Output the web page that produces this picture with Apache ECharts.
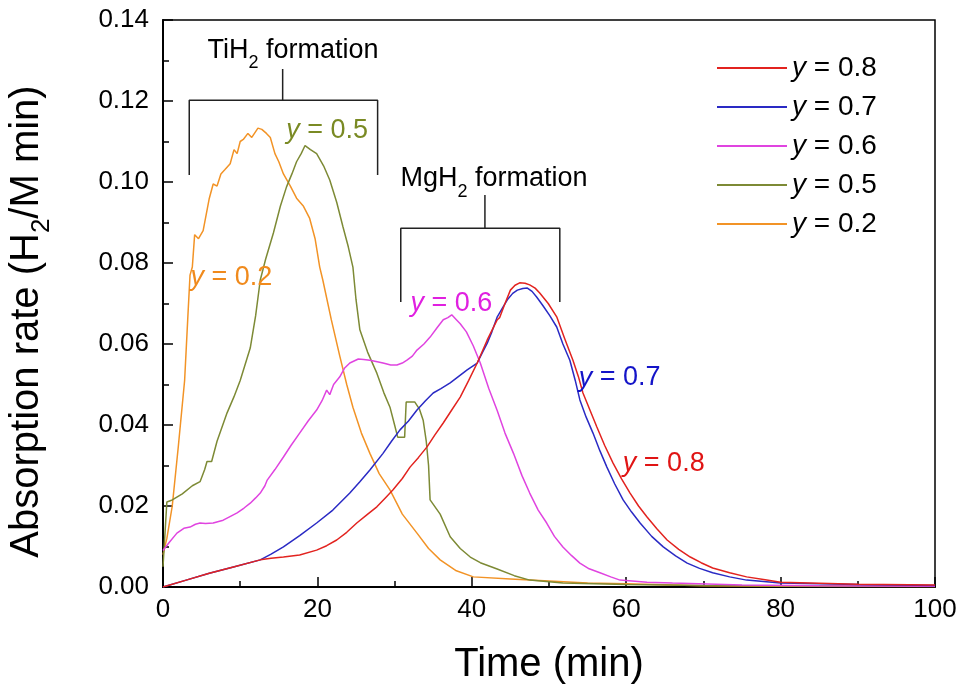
<!DOCTYPE html>
<html>
<head>
<meta charset="utf-8">
<script src="https://cdn.jsdelivr.net/npm/echarts@6/dist/echarts.min.js"></script>
<style>
html,body{margin:0;padding:0;background:#fff;}
#chart{width:960px;height:693px;}
</style>
</head>
<body>
<div id="chart"></div>
<script>
// ---- data (time in min, absorption rate in H2/M min) ----
const seriesNames = ['0.8', '0.7', '0.6', '0.5', '0.2'];

const y08 = [[0,0],[3,0.0017],[6,0.0034],[9,0.0049],[12.6,0.0067],[14,0.0071],[15.6,0.0074],[17.7,0.0079],[19.9,0.0091],[21.2,0.0102],[22.5,0.0116],[23.8,0.0135],[25.1,0.0158],[26.4,0.0178],[27.7,0.0198],[28.8,0.022],[29.8,0.024],[31,0.0268],[32,0.0296],[33.1,0.032],[34.2,0.0346],[35.2,0.0375],[36.3,0.0405],[37.4,0.0437],[38.5,0.0469],[39.6,0.051],[40.7,0.0553],[42,0.061],[43.3,0.066],[43.6,0.0665],[44.3,0.070],[45,0.0733],[45.6,0.0745],[46.2,0.0751],[46.9,0.075],[47.5,0.0746],[48.2,0.0738],[48.8,0.0726],[49.9,0.070],[51,0.0667],[52,0.0615],[53.1,0.056],[53.8,0.052],[54.4,0.0479],[55.3,0.0437],[56.2,0.0395],[57.2,0.035],[58.3,0.0306],[59.4,0.0267],[60.5,0.0232],[61.6,0.020],[62.7,0.0173],[64,0.0143],[65.3,0.0116],[66.8,0.0093],[68.3,0.0074],[69.7,0.006],[71.2,0.0047],[73.4,0.0035],[75.6,0.0025],[78,0.0018],[80,0.0012],[90,0.0007],[100,0.0005]];

const y07 = [[0,0],[3,0.0017],[6,0.0034],[9,0.0049],[12.6,0.0067],[14,0.0081],[15.6,0.0099],[17.7,0.0127],[19.9,0.0158],[22,0.019],[24.2,0.0232],[25.5,0.026],[26.8,0.0289],[28.5,0.033],[29.6,0.036],[30.7,0.0388],[31.8,0.041],[32.9,0.0437],[34,0.046],[35,0.0479],[36,0.049],[37.2,0.0504],[38.3,0.052],[39.4,0.0536],[40.7,0.0553],[41.4,0.058],[42,0.0602],[42.6,0.063],[43.3,0.0667],[44,0.069],[44.6,0.0709],[45.3,0.0725],[45.9,0.0733],[46.6,0.0737],[47.2,0.0738],[47.8,0.073],[48.4,0.0716],[49.2,0.0695],[50.1,0.067],[51,0.0642],[51.8,0.060],[52.7,0.056],[53.4,0.051],[54,0.0462],[54.8,0.042],[55.7,0.038],[56.6,0.0336],[57.5,0.0296],[58.5,0.0255],[59.6,0.0215],[60.7,0.0185],[61.8,0.0158],[63.3,0.0125],[64.8,0.0099],[66.4,0.0077],[67.9,0.0059],[69.5,0.0046],[71.2,0.0035],[73.4,0.0025],[75.6,0.0017],[80,0.001],[90,0.0006],[100,0.0004]];

const y06 = [[0,0.009],[0.8,0.011],[1.8,0.0133],[2.7,0.0145],[3.5,0.0148],[4.2,0.0155],[4.8,0.0158],[5.5,0.0157],[6.5,0.0158],[7.8,0.0165],[8.8,0.0175],[9.6,0.0183],[10.5,0.0195],[11.3,0.0207],[12,0.022],[12.6,0.0232],[13.2,0.025],[13.5,0.0264],[14.5,0.029],[15.6,0.0321],[16.6,0.035],[17.7,0.038],[18.8,0.041],[19.9,0.0437],[20.6,0.046],[21.2,0.0486],[21.6,0.0475],[22.1,0.050],[22.9,0.0519],[23.5,0.054],[24.2,0.0553],[25.3,0.0563],[26,0.0562],[26.8,0.056],[27.6,0.0557],[28.5,0.0553],[29.5,0.0548],[30.3,0.0548],[31,0.0553],[31.6,0.056],[32.3,0.057],[32.9,0.0585],[33.8,0.060],[34.6,0.0617],[35.5,0.064],[36.3,0.066],[36.9,0.0665],[37.4,0.0672],[38,0.066],[38.5,0.065],[39.3,0.063],[40.2,0.0595],[41.1,0.0553],[42.2,0.049],[43.3,0.0435],[44.3,0.038],[45.4,0.033],[46.5,0.0275],[47.5,0.0232],[48.6,0.019],[49.7,0.0158],[50.7,0.0125],[51.8,0.0099],[52.9,0.0078],[54,0.0059],[55.2,0.0045],[56.6,0.0035],[58,0.0025],[59.2,0.0017],[62.7,0.0012],[66,0.001],[75,0.0005],[85,0.0003],[100,0.0002]];

const y05 = [[0,0.005],[0.5,0.021],[1.2,0.0215],[2.5,0.023],[3.8,0.025],[4.8,0.026],[5.4,0.029],[5.7,0.031],[6.3,0.031],[7,0.036],[8.3,0.043],[9.2,0.047],[10,0.051],[11.3,0.059],[12,0.067],[12.6,0.0758],[13.3,0.081],[14.3,0.0874],[15.2,0.094],[16,0.0988],[16.7,0.102],[17.3,0.105],[17.9,0.107],[18.4,0.109],[19.1,0.108],[19.9,0.107],[20.8,0.104],[21.6,0.1005],[22.5,0.095],[23.3,0.089],[24,0.084],[24.6,0.079],[25,0.071],[25.5,0.0635],[26.5,0.058],[27.7,0.0528],[28.6,0.048],[29.4,0.0444],[30,0.040],[30.4,0.037],[31.3,0.037],[31.5,0.0457],[32.6,0.0457],[33.2,0.044],[33.7,0.0412],[34.1,0.036],[34.4,0.030],[34.6,0.0215],[35.9,0.018],[37.2,0.0124],[38.5,0.0095],[39.8,0.0074],[41.1,0.006],[43.2,0.0045],[45.5,0.0028],[47.5,0.0017],[51.8,0.001],[60,0.0006],[70,0.0004],[100,0.0002]];

const y02 = [[0,0.008],[0.5,0.012],[1.2,0.020],[2,0.035],[2.8,0.051],[3.2,0.066],[3.5,0.077],[3.8,0.079],[4.1,0.087],[4.6,0.086],[5.2,0.088],[5.6,0.092],[6,0.096],[6.5,0.0995],[7,0.099],[7.5,0.102],[8,0.103],[8.7,0.1045],[9.2,0.108],[9.6,0.107],[10,0.110],[10.4,0.1105],[11,0.112],[11.5,0.111],[12.3,0.1133],[12.8,0.113],[13.4,0.112],[13.9,0.111],[14.5,0.107],[15,0.105],[15.6,0.102],[16.5,0.099],[17.3,0.096],[18.2,0.094],[19,0.091],[19.7,0.086],[20.3,0.079],[20.7,0.0758],[21.8,0.066],[22.9,0.057],[23.8,0.050],[24.6,0.0444],[25.7,0.038],[26.8,0.033],[28,0.028],[29.4,0.024],[31,0.018],[32.9,0.0133],[34.4,0.0095],[35.9,0.0067],[38,0.004],[40.2,0.0025],[45,0.002],[50,0.0015],[55,0.001],[60,0.0008],[70,0.0003],[80,0.0002],[100,0.0001]];

// annotation brackets (data coordinates)
const tiBracket = [[3.4,0.1017],[3.4,0.1202],[27.8,0.1202],[27.8,0.1017]];
const tiStem = [[15.5,0.1202],[15.5,0.1279]];
const mgBracket = [[30.8,0.0704],[30.8,0.0886],[51.4,0.0886],[51.4,0.0704]];
const mgStem = [[41.7,0.0886],[41.7,0.0968]];

// annotation text anchors (left-middle of text)
const notes = [
  {pos:[5.7,0.1325], text:'TiH{sub|2} formation', color:'#000'},
  {pos:[30.7,0.1008], text:'MgH{sub|2} formation', color:'#000'},
  {pos:[15.9,0.1128], text:'{i|y} = 0.5', color:'#7a8a24'},
  {pos:[3.5,0.0765], text:'{i|y} = 0.2', color:'#f08a1c'},
  {pos:[32.0,0.0701], text:'{i|y} = 0.6', color:'#e020e0'},
  {pos:[53.8,0.0516], text:'{i|y} = 0.7', color:'#1414c8'},
  {pos:[59.5,0.0306], text:'{i|y} = 0.8', color:'#e01414'}
];

const colors = ['#e2231f', '#2a2ac4', '#e044e0', '#7d8a35', '#f29326'];
const FONT = 'Liberation Sans, Arial, sans-serif';

const dataSets = [y08, y07, y06, y05, y02];

const lineSeries = dataSets.map((d, i) => ({
  name: 'y = ' + seriesNames[i],
  type: 'line',
  data: d,
  symbol: 'none',
  smooth: false,
  lineStyle: {color: colors[i], width: 1.5},
  itemStyle: {color: colors[i]},
  z: 5 - i
}));

const bracketStyle = {color: '#222', width: 1.5};
const bracketSeries = [tiBracket, tiStem, mgBracket, mgStem].map(d => ({
  type: 'line', data: d, symbol: 'none', silent: true,
  lineStyle: bracketStyle, itemStyle: {color: '#222'}, z: 6
}));

function richFor(color) {
  return {
    i: {fontStyle: 'italic', fontSize: 27, fontFamily: FONT, color: color, lineHeight: 36, opacity: 1},
    sub: {fontSize: 18, fontFamily: FONT, color: color, verticalAlign: 'top', lineHeight: 18, padding: [22, 0, 0, 0], opacity: 1}
  };
}

const noteSeries = {
  type: 'scatter',
  silent: true,
  symbol: 'circle',
  symbolSize: 1,
  itemStyle: {color: 'rgba(255,255,255,0)', opacity: 1},
  z: 10,
  data: notes.map(n => ({
    value: n.pos,
    label: {
      show: true,
      position: 'right',
      distance: 0,
      formatter: n.text,
      fontSize: 27,
      fontFamily: FONT,
      color: n.color,
      opacity: 1,
      lineHeight: 36,
      rich: richFor(n.color)
    }
  }))
};

const chart = echarts.init(document.getElementById('chart'), null, {renderer: 'canvas'});
chart.setOption({
  animation: false,
  backgroundColor: '#fff',
  grid: {left: 163, right: 25, top: 20, bottom: 106, show: true, borderColor: '#000', borderWidth: 1.5, backgroundColor: 'transparent', containLabel: false, outerBoundsMode: 'none'},
  legend: {
    show: true,
    data: lineSeries.map(s => s.name),
    orient: 'vertical',
    left: 712,
    top: 47,
    itemWidth: 70,
    itemHeight: 2,
    itemGap: 7,
    icon: 'rect',
    formatter: name => '{i|y}' + name.slice(1),
    textStyle: {
      fontSize: 28, fontFamily: FONT, color: '#000', lineHeight: 32,
      rich: {i: {fontStyle: 'italic', fontSize: 28, fontFamily: FONT, color: '#000', lineHeight: 32}}
    }
  },
  xAxis: {
    type: 'value', min: 0, max: 100, interval: 20,
    name: 'Time (min)', nameLocation: 'middle', nameGap: 58,
    nameTextStyle: {fontSize: 40, fontFamily: FONT, color: '#000'},
    axisLine: {lineStyle: {color: '#000', width: 2}},
    axisTick: {inside: true, length: 10, lineStyle: {color: '#000', width: 1.5}},
    minorTick: {show: true, splitNumber: 2, length: 6, lineStyle: {color: '#000', width: 1.5}},
    axisLabel: {fontSize: 26, fontFamily: FONT, color: '#000', margin: 10},
    splitLine: {show: false}
  },
  yAxis: {
    type: 'value', min: 0, max: 0.14, interval: 0.02,
    name: 'Absorption rate (H{sub|2}/M min)', nameLocation: 'middle', nameGap: 112, nameRotate: 90,
    nameTextStyle: {
      fontSize: 40, fontFamily: FONT, color: '#000', lineHeight: 48, padding: [0, 36, 0, 0],
      rich: {sub: {fontSize: 26, fontFamily: FONT, color: '#000', verticalAlign: 'top', lineHeight: 26, padding: [26, 0, 0, 0]}}
    },
    axisLine: {lineStyle: {color: '#000', width: 2}},
    axisTick: {inside: true, length: 10, lineStyle: {color: '#000', width: 1.5}},
    minorTick: {show: true, splitNumber: 2, length: 6, lineStyle: {color: '#000', width: 1.5}},
    axisLabel: {fontSize: 26, fontFamily: FONT, color: '#000', margin: 14, formatter: v => v.toFixed(2)},
    splitLine: {show: false}
  },
  series: [...lineSeries, ...bracketSeries, noteSeries]
});
</script>
</body>
</html>
